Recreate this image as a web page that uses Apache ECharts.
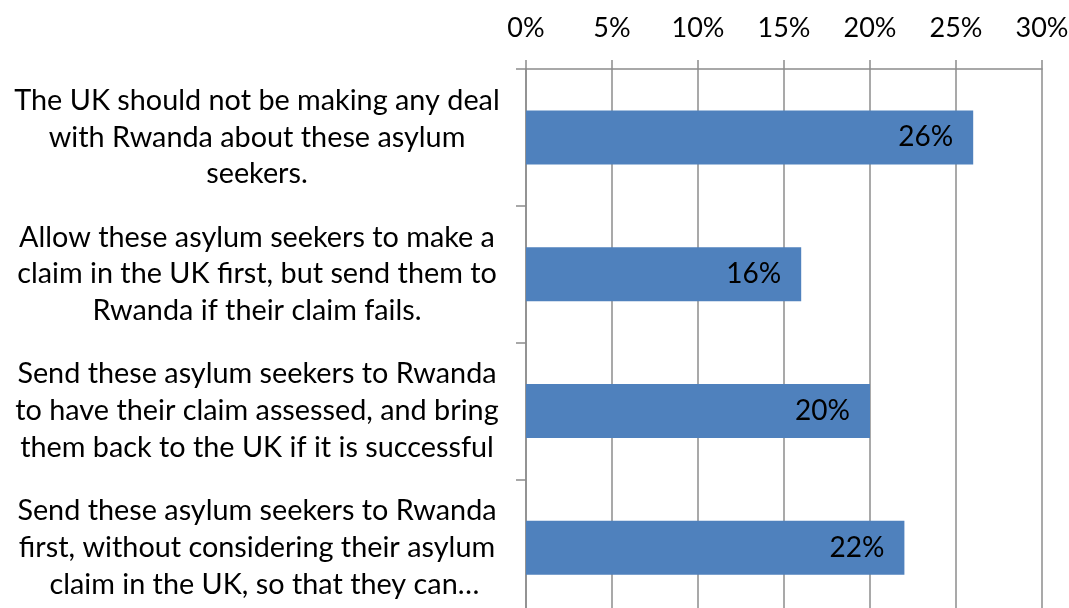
<!DOCTYPE html>
<html>
<head>
<meta charset="utf-8">
<script src="https://cdn.jsdelivr.net/npm/echarts@6/dist/echarts.min.js"></script>
<style>
  html, body { margin: 0; padding: 0; background: #fff; }
  #chart { width: 1069px; height: 608px; }
</style>
</head>
<body>
<div id="chart"></div>
<script>
// Survey options (top to bottom) and the share choosing each
const categories = [
  'The UK should not be making any deal\nwith Rwanda about these asylum\nseekers.',
  'Allow these asylum seekers to make a\nclaim in the UK first, but send them to\nRwanda if their claim fails.',
  'Send these asylum seekers to Rwanda\nto have their claim assessed, and bring\nthem back to the UK if it is successful',
  'Send these asylum seekers to Rwanda\nfirst, without considering their asylum\n  claim in the UK, so that they can…'
];
const shares = [26, 16, 20, 22];

// Percentage scale along the top
const axisMin = 0;
const axisMax = 30;
const axisStep = 5;

const FONT = 'Lato, "Open Sans", sans-serif';
const GRID_GREY = '#8c8c8c';
const lineStyle = { color: GRID_GREY, width: 1.5 };

const chart = echarts.init(document.getElementById('chart'), null, { renderer: 'canvas' });

chart.setOption({
  animation: false,
  backgroundColor: '#ffffff',
  grid: {
    left: 526,
    right: 27,
    top: 69,
    height: 547,
    containLabel: false,
    outerBoundsMode: 'none'
  },
  xAxis: {
    type: 'value',
    position: 'top',
    min: axisMin,
    max: axisMax,
    interval: axisStep,
    axisLine: { show: true, lineStyle: lineStyle },
    axisTick: { show: true, length: 9, lineStyle: lineStyle },
    splitLine: { show: true, lineStyle: lineStyle },
    axisLabel: {
      formatter: '{value}%',
      fontFamily: FONT,
      fontSize: 27,
      color: '#000',
      margin: 27,
      showMinLabel: true,
      showMaxLabel: true,
      hideOverlap: false
    }
  },
  yAxis: {
    type: 'category',
    inverse: true,
    data: categories,
    axisLine: { show: true, lineStyle: lineStyle },
    axisTick: { show: true, length: 10, inside: false, lineStyle: lineStyle },
    splitLine: { show: false },
    axisLabel: {
      interval: 0,
      align: 'center',
      margin: 269,
      fontFamily: FONT,
      fontSize: 28.8,
      lineHeight: 36.7,
      color: '#000'
    }
  },
  series: [{
    type: 'bar',
    data: shares,
    barWidth: 54,
    itemStyle: { color: '#4F81BD' },
    label: {
      show: true,
      position: 'insideRight',
      distance: 20,
      formatter: '{c}%',
      fontFamily: FONT,
      fontSize: 28,
      color: '#000'
    }
  }]
});
</script>
</body>
</html>
